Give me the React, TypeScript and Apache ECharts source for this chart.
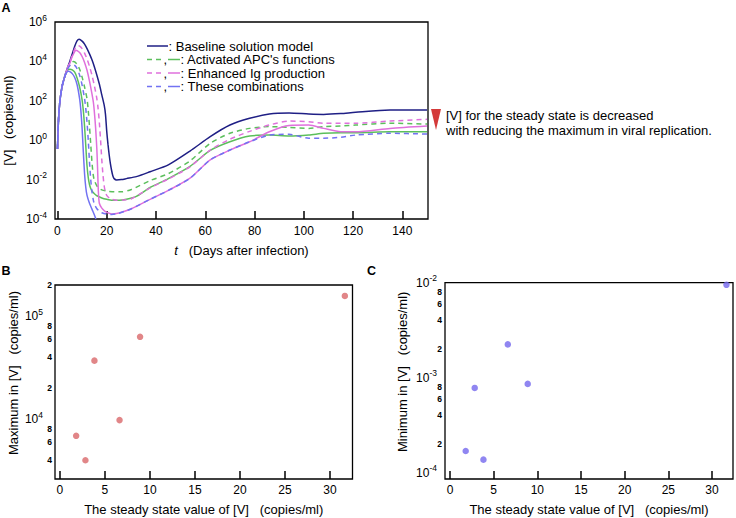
import React, { useEffect, useRef } from "react";
import * as echarts from "echarts";

const FONT = "'Liberation Sans', Arial, Helvetica, sans-serif";

// ---------- Panel A : viral load [V] (log10 copies/ml) vs days after infection ----------
const earlyDays = [0, 0.25, 0.5, 1, 1.5, 2, 3];
const earlyLogV = [-0.45, 0.5, 1.2, 2.0, 2.45, 2.8, 3.25];

const baselineDays = [4, 5, 6, 7, 8, 8.8, 10, 11, 12, 13, 14, 15, 16, 17, 18, 19, 19.5, 20, 20.5, 21, 21.5, 22, 22.5, 23, 24, 26, 28, 32, 37.6, 45, 53.8, 62, 70, 78, 86, 94, 102, 108, 115, 121, 135, 150];
const baselineLogV = [3.65, 4.0, 4.38, 4.77, 5.05, 5.12, 5.03, 4.88, 4.65, 4.38, 4.08, 3.72, 3.3, 2.85, 2.3, 1.75, 1.3, 0.45, -0.2, -0.75, -1.2, -1.55, -1.82, -1.95, -2.02, -2.0, -1.95, -1.85, -1.6, -1.25, -0.55, 0.18, 0.77, 1.11, 1.33, 1.38, 1.33, 1.31, 1.35, 1.42, 1.53, 1.53];

const apcDashDays = [4, 5, 6, 6.5, 7, 8, 9, 10, 11, 12, 12.5, 13, 13.5, 14, 14.5, 15, 16, 17, 18, 20, 23, 26, 30, 37.6, 45, 53.8, 62, 70, 78, 86, 94, 102, 108, 115, 121, 135, 150];
const apcDashLogV = [3.62, 3.82, 3.97, 4.0, 3.98, 3.85, 3.6, 3.2, 2.7, 2.1, 1.5, 0.7, -0.2, -1.1, -1.75, -2.05, -2.32, -2.45, -2.52, -2.58, -2.62, -2.62, -2.5, -2.05, -1.7, -1.05, -0.16, 0.35, 0.6, 0.69, 0.65, 0.6, 0.69, 0.72, 0.77, 0.86, 0.82];

const apcSolidDays = [4, 5, 6, 7, 8, 9, 10, 10.5, 11, 11.5, 12, 12.5, 13, 13.5, 14, 15, 16, 18, 20, 22, 25, 28, 32, 37.6, 45, 53.8, 62, 70, 78, 86, 94, 102, 108, 115, 121, 135, 150];
const apcSolidLogV = [3.55, 3.6, 3.57, 3.45, 3.15, 2.7, 2.05, 1.5, 0.7, -0.3, -1.3, -1.9, -2.25, -2.45, -2.58, -2.72, -2.82, -2.93, -3.0, -3.05, -3.05, -3.0, -2.85, -2.4, -1.95, -1.33, -0.52, -0.08, 0.21, 0.26, 0.21, 0.26, 0.35, 0.38, 0.38, 0.43, 0.43];

const igDashDays = [4, 5, 6, 7, 8, 9, 10, 11, 12, 13, 14, 15, 16, 16.5, 17, 17.5, 18, 18.5, 19, 19.5, 20, 21, 22, 24, 27, 30, 37.6, 45, 53.8, 62, 70, 78, 86, 94, 102, 108, 115, 121, 135, 150];
const igDashLogV = [3.65, 3.95, 4.3, 4.62, 4.8, 4.78, 4.65, 4.42, 4.12, 3.75, 3.3, 2.75, 2.1, 1.6, 0.9, 0.0, -1.0, -1.8, -2.35, -2.65, -2.8, -2.93, -3.0, -3.05, -3.03, -2.97, -2.42, -1.97, -1.35, -0.5, 0.05, 0.45, 0.77, 0.97, 0.94, 0.86, 0.86, 0.86, 0.97, 1.06];

const igSolidDays = [4, 5, 6, 7, 7.5, 8, 9, 10, 11, 12, 13, 14, 14.6, 15, 15.5, 16, 16.3, 16.6, 17, 18, 19, 20, 22, 24, 27, 30, 37.6, 45, 53.8, 62, 70, 78, 86, 94, 102, 108, 115, 121, 135, 150];
const igSolidLogV = [3.62, 3.9, 4.25, 4.5, 4.57, 4.55, 4.45, 4.25, 3.95, 3.55, 3.0, 2.35, 1.9, 1.4, 0.6, -0.5, -1.5, -2.6, -3.2, -3.45, -3.58, -3.66, -3.74, -3.72, -3.62, -3.48, -3.0, -2.55, -1.93, -1.0, -0.5, -0.08, 0.43, 0.75, 0.77, 0.6, 0.43, 0.43, 0.6, 0.72];

const comboDashDays = [4, 5, 6, 7, 8, 9, 10, 11, 11.5, 12, 12.5, 13, 13.5, 14, 14.5, 15, 16, 17, 18, 20, 22, 24, 27, 30, 37.6, 45, 53.8, 62, 70, 78, 86, 94, 102, 108, 115, 121, 135, 150];
const comboDashLogV = [3.6, 3.78, 3.85, 3.8, 3.62, 3.3, 2.8, 2.1, 1.6, 0.9, 0.0, -1.1, -2.0, -2.6, -3.0, -3.25, -3.48, -3.6, -3.68, -3.75, -3.77, -3.74, -3.62, -3.48, -3.0, -2.55, -1.93, -1.0, -0.5, -0.08, 0.26, 0.3, 0.1, 0.1, 0.15, 0.26, 0.35, 0.31];

const comboSolidDays = [4, 4.5, 5, 6, 7, 8, 9, 9.5, 10, 10.5, 11, 11.5, 12, 13, 14, 15, 15.6];
const comboSolidLogV = [3.48, 3.5, 3.48, 3.38, 3.18, 2.8, 2.1, 1.5, 0.6, -0.6, -1.7, -2.4, -2.8, -3.2, -3.5, -3.8, -4.0];

const dayTicks = [0, 20, 40, 60, 80, 100, 120, 140];

// ---------- Panels B, C : order = baseline, APC dashed, APC solid, Ig dashed, Ig solid, combo dashed ----------
const steadyStateV = [31.65, 6.62, 2.83, 8.9, 3.83, 1.8];
const maximumV = [1.57e5, 9.8e3, 4.0e3, 6.3e4, 3.7e4, 6.9e3];
const minimumV = [9.5e-3, 2.24e-3, 7.8e-4, 8.6e-4, 1.37e-4, 1.69e-4];

const steadyTicks = [0, 5, 10, 15, 20, 25, 30];
const maxMajorTicks = [1e4, 1e5];
const maxMinorTicks = [4e3, 6e3, 8e3, 2e4, 4e4, 6e4, 8e4, 2e5];
const minMajorTicks = [1e-4, 1e-3, 1e-2];
const minMinorTicks = [2e-4, 4e-4, 6e-4, 8e-4, 2e-3, 4e-3, 6e-3, 8e-3];

const NAVY = "#1f1f85";
const GREEN = "#5cbf5c";
const MAGENTA = "#df70dc";
const BLUE = "#7272f2";
const DOT_B = "#d9686a";
const DOT_C = "#7468ee";

const pair = (xs: number[], ys: number[]) => xs.map((x, i) => [x, ys[i]]);
const withEarly = (xs: number[], ys: number[]) => pair(earlyDays.concat(xs), earlyLogV.concat(ys));
const lg = (vals: number[]) => vals.map((v) => Math.log10(v));

const decadeLabel = (v: number) => `{b|10}{s|${Math.round(v)}}`;
const mantissaLabel = (v: number) => {
  const e = Math.floor(v + 1e-9);
  return String(Math.round(Math.pow(10, v - e)));
};

const richDecade = {
  b: { fontSize: 12, lineHeight: 18, fontFamily: FONT, color: "#000" },
  s: { fontSize: 8.5, lineHeight: 9, verticalAlign: "top", fontFamily: FONT, color: "#000" },
};

const xTick = (vals: number[]) => ({
  show: true,
  inside: true,
  length: 8,
  customValues: vals,
  lineStyle: { color: "#000", width: 1.5 },
});

const noLine = { show: false, onZero: false };
const nameStyle = { fontSize: 13, color: "#000", fontFamily: FONT };

function lineSeries(name: string, data: number[][], color: string, dashed: boolean) {
  return {
    type: "line",
    name,
    xAxisIndex: 0,
    yAxisIndex: 0,
    data,
    showSymbol: false,
    symbol: "none",
    smooth: 0.25,
    lineStyle: { color, width: 1.5, type: dashed ? [5, 4] : "solid" },
    silent: true,
  };
}

function logYAxes(gridIndex: number, min: number, max: number, major: number[], minor: number[], majorMargin: number, name: string, nameGap: number) {
  const base = {
    gridIndex, type: "value", min, max, position: "left",
    axisLine: noLine, axisTick: { show: false }, splitLine: { show: false },
  };
  return [
    {
      ...base,
      axisLabel: { customValues: lg(major), margin: majorMargin, showMinLabel: true, showMaxLabel: true, hideOverlap: false, formatter: decadeLabel, rich: richDecade },
      name, nameLocation: "middle", nameGap, nameRotate: 90,
      nameTextStyle: { ...nameStyle, padding: [0, 0, 0, 18] },
    },
    {
      ...base,
      axisLabel: { customValues: lg(minor), margin: 3, showMinLabel: true, showMaxLabel: true, hideOverlap: false, formatter: mantissaLabel, fontSize: 8.5, fontWeight: "bold", fontFamily: FONT, color: "#000" },
    },
  ];
}

export default function App() {
  const ref = useRef<HTMLDivElement>(null);
  useEffect(() => {
    if (!ref.current) return;
    const chart = echarts.init(ref.current, null, { renderer: "svg" });
    const legendRows = [
      { y: 46, color: NAVY, dashed: false, text: ": Baseline solution model" },
      { y: 59.5, color: GREEN, dashed: true, text: ": Activated APC's functions" },
      { y: 73, color: MAGENTA, dashed: true, text: ": Enhanced Ig production" },
      { y: 86.5, color: BLUE, dashed: true, text: ": These combinations" },
    ];
    const legendGraphics: any[] = [];
    legendRows.forEach((r) => {
      if (!r.dashed) {
        legendGraphics.push({ type: "line", shape: { x1: 147, y1: r.y, x2: 168, y2: r.y }, style: { stroke: r.color, lineWidth: 1.5 } });
        legendGraphics.push({ type: "text", x: 168.5, y: r.y, style: { text: r.text, fontSize: 13, fontFamily: FONT, fill: "#000", verticalAlign: "middle" } });
      } else {
        legendGraphics.push({ type: "line", shape: { x1: 147, y1: r.y, x2: 162, y2: r.y }, style: { stroke: r.color, lineWidth: 1.5, lineDash: [5, 4] } });
        legendGraphics.push({ type: "text", x: 163.5, y: r.y, style: { text: ",", fontSize: 13, fontFamily: FONT, fill: "#000", verticalAlign: "middle" } });
        legendGraphics.push({ type: "line", shape: { x1: 168, y1: r.y, x2: 180, y2: r.y }, style: { stroke: r.color, lineWidth: 1.5 } });
        legendGraphics.push({ type: "text", x: 180.5, y: r.y, style: { text: r.text, fontSize: 13, fontFamily: FONT, fill: "#000", verticalAlign: "middle" } });
      }
    });

    const option: any = {
      animation: false,
      backgroundColor: "#fff",
      grid: [
        { left: 55, top: 22, width: 373, height: 197, show: true, borderColor: "#000", borderWidth: 1.3, backgroundColor: "transparent", outerBoundsMode: "none" },
        { left: 55, top: 285, width: 297.5, height: 194, show: true, borderColor: "#000", borderWidth: 1.3, backgroundColor: "transparent", outerBoundsMode: "none" },
        { left: 445, top: 282.6, width: 288, height: 196.4, show: true, borderColor: "#000", borderWidth: 1.3, backgroundColor: "transparent", outerBoundsMode: "none" },
      ],
      xAxis: [
        {
          gridIndex: 0, type: "value", min: -1, max: 150.4,
          axisLine: noLine, splitLine: { show: false },
          axisTick: xTick(dayTicks),
          axisLabel: { customValues: dayTicks, margin: 6, fontSize: 12, color: "#000", fontFamily: FONT },
          name: "{i|t}   (Days after infection)", nameLocation: "middle", nameGap: 25,
          nameTextStyle: { ...nameStyle, rich: { i: { fontStyle: "italic", fontSize: 13, fontFamily: FONT, color: "#000" } } },
        },
        {
          gridIndex: 1, type: "value", min: -0.55, max: 32.5,
          axisLine: noLine, splitLine: { show: false },
          axisTick: xTick(steadyTicks),
          axisLabel: { customValues: steadyTicks, margin: 5, fontSize: 12, color: "#000", fontFamily: FONT },
          name: "The steady state value of [V]   (copies/ml)", nameLocation: "middle", nameGap: 24, nameTextStyle: nameStyle,
        },
        {
          gridIndex: 2, type: "value", min: -0.57, max: 32.4,
          axisLine: noLine, splitLine: { show: false },
          axisTick: xTick(steadyTicks),
          axisLabel: { customValues: steadyTicks, margin: 5, fontSize: 12, color: "#000", fontFamily: FONT },
          name: "The steady state value of [V]   (copies/ml)", nameLocation: "middle", nameGap: 24, nameTextStyle: nameStyle,
        },
      ],
      yAxis: [
        {
          gridIndex: 0, type: "value", min: -4, max: 6, interval: 2,
          axisLine: noLine, axisTick: { show: false }, splitLine: { show: false },
          axisLabel: { margin: 8, showMinLabel: true, showMaxLabel: true, hideOverlap: false, formatter: decadeLabel, rich: richDecade },
          name: "[V]   (copies/ml)", nameLocation: "middle", nameGap: 39, nameRotate: 90, nameTextStyle: nameStyle,
        },
        ...logYAxes(1, 3.42, 5.302, maxMajorTicks, maxMinorTicks, 12, "Maximum in [V]   (copies/ml)", 35),
        ...logYAxes(2, -4.067, -1.999, minMajorTicks, minMinorTicks, 8, "Minimum in [V]   (copies/ml)", 36),
      ],
      series: [
        lineSeries("Baseline solution model", withEarly(baselineDays, baselineLogV), NAVY, false),
        lineSeries("Activated APC's functions (dashed)", withEarly(apcDashDays, apcDashLogV), GREEN, true),
        lineSeries("Activated APC's functions", withEarly(apcSolidDays, apcSolidLogV), GREEN, false),
        lineSeries("Enhanced Ig production (dashed)", withEarly(igDashDays, igDashLogV), MAGENTA, true),
        lineSeries("Enhanced Ig production", withEarly(igSolidDays, igSolidLogV), MAGENTA, false),
        lineSeries("These combinations (dashed)", withEarly(comboDashDays, comboDashLogV), BLUE, true),
        lineSeries("These combinations", withEarly(comboSolidDays, comboSolidLogV), BLUE, false),
        {
          type: "scatter", xAxisIndex: 1, yAxisIndex: 1, symbolSize: 6.5,
          data: pair(steadyStateV, lg(maximumV)),
          itemStyle: { color: DOT_B }, silent: true,
        },
        {
          type: "scatter", xAxisIndex: 2, yAxisIndex: 3, symbolSize: 6.5,
          data: pair(steadyStateV, lg(minimumV)),
          itemStyle: { color: DOT_C }, silent: true,
        },
      ],
      graphic: [
        { type: "text", x: 1.5, y: 1, style: { text: "A", fontSize: 12.5, fontWeight: "bold", fontFamily: FONT, fill: "#000" } },
        { type: "text", x: 1.5, y: 264, style: { text: "B", fontSize: 12.5, fontWeight: "bold", fontFamily: FONT, fill: "#000" } },
        { type: "text", x: 367, y: 264, style: { text: "C", fontSize: 12.5, fontWeight: "bold", fontFamily: FONT, fill: "#000" } },
        ...legendGraphics,
        { type: "polygon", shape: { points: [[431, 109], [441, 109], [436, 130]] }, style: { fill: "#d43a3a" } },
        { type: "text", x: 446, y: 115, style: { text: "[V] for the steady state is decreased", fontSize: 13, fontFamily: FONT, fill: "#000", verticalAlign: "middle" } },
        { type: "text", x: 446, y: 130, style: { text: "with reducing the maximum in viral replication.", fontSize: 13, fontFamily: FONT, fill: "#000", verticalAlign: "middle" } },
      ],
    };
    chart.setOption(option);
    return () => chart.dispose();
  }, []);
  return <div ref={ref} style={{ position: "fixed", left: 0, top: 0, width: 736, height: 518, background: "#fff" }} />;
}
